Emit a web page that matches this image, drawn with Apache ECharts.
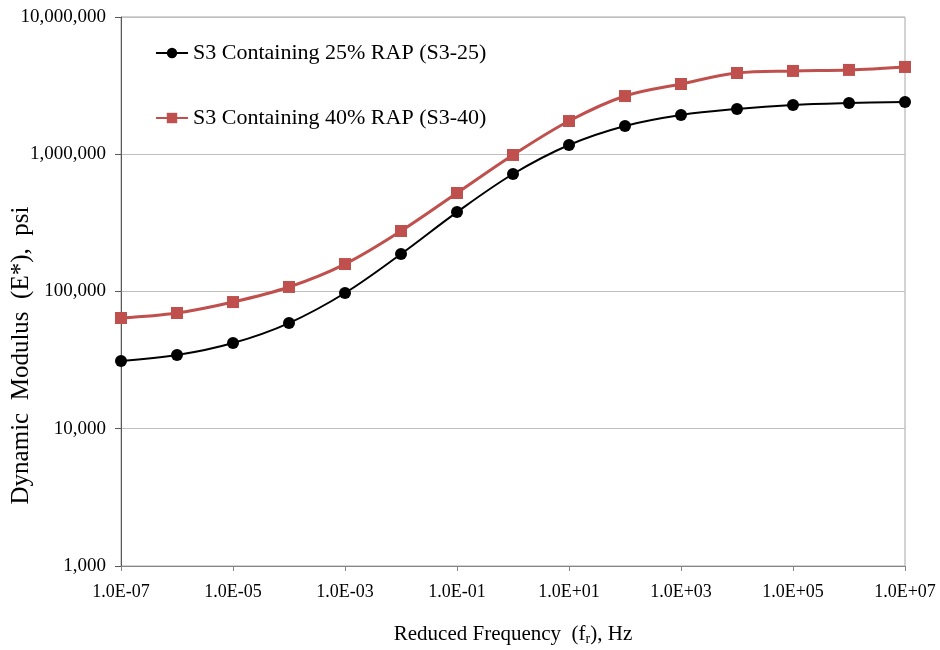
<!DOCTYPE html>
<html>
<head>
<meta charset="utf-8">
<script src="https://cdn.jsdelivr.net/npm/echarts@6/dist/echarts.min.js"></script>
<style>html,body{margin:0;padding:0;background:#fff}#c{width:940px;height:650px}</style>
</head>
<body>
<div id="c"></div>
<script>
const frequencies = ['1.0E-07','1.0E-06','1.0E-05','1.0E-04','1.0E-03','1.0E-02','1.0E-01','1.0E+00','1.0E+01','1.0E+02','1.0E+03','1.0E+04','1.0E+05','1.0E+06','1.0E+07'];
const s3_25 = [31200, 34400, 42100, 58900, 97500, 187600, 379000, 718000, 1168000, 1607000, 1932000, 2138000, 2286000, 2361000, 2405000];
const s3_40 = [64100, 69700, 83800, 107900, 158500, 276000, 522000, 988000, 1746000, 2655000, 3250000, 3907000, 4046000, 4115000, 4325000];
const seriesNames = ['S3 Containing 25% RAP (S3-25)', 'S3 Containing 40% RAP (S3-40)'];

const FONT = '"Liberation Serif", "Times New Roman", serif';
const chart = echarts.init(document.getElementById('c'));
chart.setOption({
  animation: false,
  backgroundColor: '#fff',
  textStyle: { fontFamily: FONT },
  grid: { left: 121, right: 35, top: 17, bottom: 84, containLabel: false, outerBoundsMode: 'none',
    show: true, borderColor: '#A6A6A6', borderWidth: 1 },
  legend: {
    orient: 'vertical', left: 150, top: 37,
    itemWidth: 32, itemHeight: 13, itemGap: 43,
    textStyle: { fontFamily: FONT, fontSize: 22, color: '#000' },
    data: seriesNames
  },
  xAxis: {
    type: 'category', data: frequencies, boundaryGap: false,
    axisLine: { lineStyle: { color: '#868686', width: 1 } },
    axisTick: { show: true, interval: 1, length: 5, lineStyle: { color: '#868686' } },
    axisLabel: { interval: 1, fontFamily: FONT, fontSize: 18, color: '#000', margin: 17 },
    name: '{a|Reduced Frequency  (f}{s|r}{a|), Hz}',
    nameLocation: 'middle', nameGap: 56, nameMoveOverlap: false,
    nameTextStyle: { rich: { a: { fontFamily: FONT, fontSize: 21, color: '#000' }, s: { fontFamily: FONT, fontSize: 14, color: '#000', verticalAlign: 'bottom', padding: [10, 0, 0, 0] } } }
  },
  yAxis: {
    type: 'log', logBase: 10, min: 1000, max: 10000000,
    axisLine: { show: true, lineStyle: { color: '#595959', width: 1 } },
    axisTick: { show: true, length: 6, lineStyle: { color: '#595959' } },
    minorTick: { show: false },
    splitLine: { show: true, lineStyle: { color: '#BFBFBF', width: 1 } },
    axisLabel: { fontFamily: FONT, fontSize: 19, color: '#000', margin: 15,
      formatter: v => Math.round(v).toLocaleString('en-US') },
    name: 'Dynamic  Modulus  (E*),  psi', nameLocation: 'middle', nameGap: 87, nameMoveOverlap: false,
    nameTextStyle: { fontFamily: FONT, fontSize: 25, color: '#000', padding: [0, 128, 0, 0] }
  },
  series: [
    { name: seriesNames[0], type: 'line', data: s3_25, smooth: 0.35,
      symbol: 'circle', symbolSize: 12,
      itemStyle: { color: '#000' }, lineStyle: { color: '#000', width: 2 } },
    { name: seriesNames[1], type: 'line', data: s3_40, smooth: 0.35,
      symbol: 'rect', symbolSize: 12,
      itemStyle: { color: '#C0504D' }, lineStyle: { color: '#C0504D', width: 3 } }
  ]
});
</script>
</body>
</html>
